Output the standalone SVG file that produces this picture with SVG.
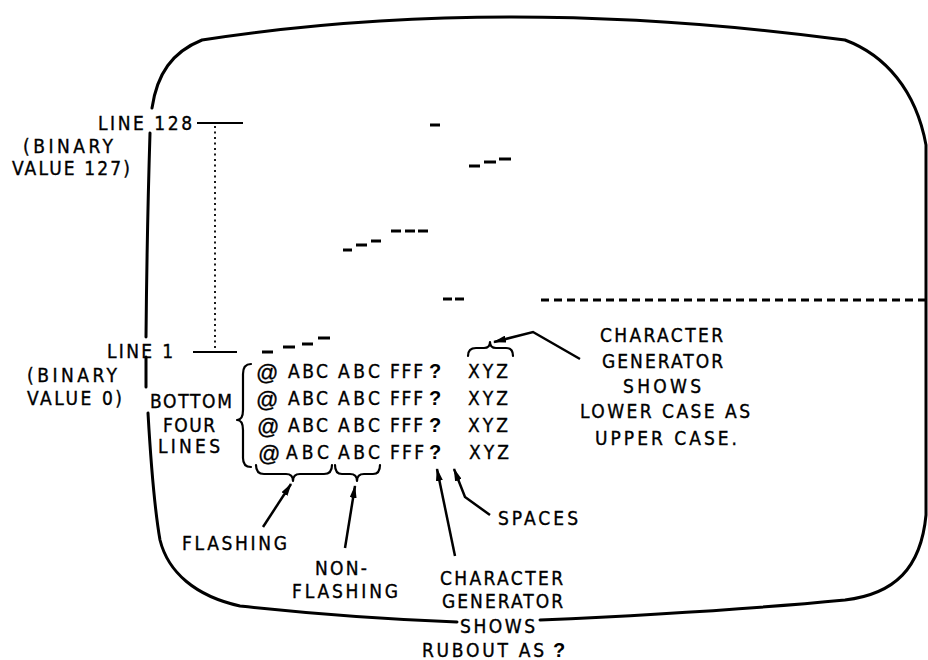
<svg xmlns="http://www.w3.org/2000/svg" width="928" height="660" viewBox="0 0 928 660">
<style>
.t{font-family:'Liberation Sans Narrow','DejaVu Sans Condensed','Liberation Sans',sans-serif;font-size:19px;fill:#000;stroke:#000;stroke-width:0.35}
.at{font-family:'Liberation Sans','DejaVu Sans',sans-serif;font-size:22px;fill:#000;stroke:#000;stroke-width:0.35}
.q{font-family:'Liberation Sans','DejaVu Sans',sans-serif;font-size:20px;font-weight:bold;fill:#000}
.ol{fill:none;stroke:#000;stroke-width:3;stroke-linecap:round}
.br{fill:none;stroke:#000;stroke-width:2.2;stroke-linecap:round;stroke-linejoin:round}
.sc{stroke:#000;stroke-width:3}
.ar{fill:none;stroke:#000;stroke-width:2.5;marker-end:url(#ah)}
</style>
<defs>
<marker id="ah" viewBox="0 0 13 7" refX="12" refY="3.5" markerWidth="13" markerHeight="7" markerUnits="userSpaceOnUse" orient="auto"><path d="M0,0 L13,3.5 L0,7 Z" fill="#000"/></marker>
</defs>
<rect width="928" height="660" fill="#fff"/>

<g id="screen">
<path class="ol" d="M152,108 C157,74 172,52 202,40 Q500,-6 845,40 C885,55 916,90 926,145 L926,515 C921,568 895,594 845,600 Q720,612 540,620"/>
<path class="ol" d="M457,622 Q350,618 240,606 C195,596 168,572 160,540 Q153,500 148,413"/>
<path class="ol" d="M146,387 L146,357"/>
<path class="ol" d="M146,337 Q147,230 150,133"/>
</g>

<g id="scanlines">
<line class="sc" x1="430" y1="125" x2="440" y2="125"/>
<line class="sc" x1="469" y1="166" x2="480" y2="166"/>
<line class="sc" x1="484" y1="162" x2="496" y2="162"/>
<line class="sc" x1="499" y1="159" x2="511" y2="159"/>
<line class="sc" x1="343" y1="250" x2="352" y2="250"/>
<line class="sc" x1="356" y1="245" x2="367" y2="245"/>
<line class="sc" x1="371" y1="241" x2="381" y2="241"/>
<line class="sc" x1="391" y1="231" x2="401" y2="231"/>
<line class="sc" x1="405" y1="231" x2="415" y2="231"/>
<line class="sc" x1="418" y1="231" x2="428" y2="231"/>
<line class="sc" x1="443" y1="299" x2="452" y2="299"/>
<line class="sc" x1="455" y1="299" x2="464" y2="299"/>
<line class="sc" x1="541" y1="300" x2="928" y2="300" stroke-dasharray="8 5"/>
<line class="sc" x1="262" y1="352" x2="273" y2="352"/>
<line class="sc" x1="283" y1="347" x2="295" y2="347"/>
<line class="sc" x1="302" y1="344" x2="313" y2="344"/>
<line class="sc" x1="318" y1="338" x2="330" y2="338"/>
</g>

<g id="line128">
<text class="t" x="98" y="130" textLength="94" lengthAdjust="spacing">LINE 128</text>
<line x1="197" y1="123" x2="243" y2="123" stroke="#000" stroke-width="1.8"/>
<text class="t" x="23" y="153" textLength="90" lengthAdjust="spacing">(BINARY</text>
<text class="t" x="12" y="175" textLength="118" lengthAdjust="spacing">VALUE 127)</text>
</g>

<g id="range">
<line x1="215" y1="126" x2="215" y2="350" stroke="#000" stroke-width="1.8" stroke-dasharray="2 3.5"/>
</g>

<g id="line1">
<text class="t" x="107" y="358" textLength="66" lengthAdjust="spacing">LINE 1</text>
<line x1="193" y1="352" x2="237" y2="352" stroke="#000" stroke-width="1.8"/>
<text class="t" x="27" y="382" textLength="90" lengthAdjust="spacing">(BINARY</text>
<text class="t" x="27" y="405" textLength="95" lengthAdjust="spacing">VALUE 0)</text>
</g>

<g id="bottom-four">
<text class="t" x="150" y="408" textLength="82" lengthAdjust="spacing">BOTTOM</text>
<text class="t" x="163" y="432" textLength="52" lengthAdjust="spacing">FOUR</text>
<text class="t" x="158" y="453" textLength="62" lengthAdjust="spacing">LINES</text>
<path class="br" d="M251,364 Q243,364 243,374 L243,410 Q243,420 237,420 Q243,420 243,430 L243,458 Q243,467 251,467"/>
</g>

<g id="rows">
<text class="at" x="256" y="380">@</text>
<text class="t" x="288" y="378" textLength="40" lengthAdjust="spacing">ABC</text>
<text class="t" x="338" y="378" textLength="42" lengthAdjust="spacing">ABC</text>
<text class="t" x="390" y="378" textLength="33" lengthAdjust="spacing">FFF</text>
<text class="q" x="429" y="378">?</text>
<text class="t" x="468" y="378" textLength="40" lengthAdjust="spacing">XYZ</text>

<text class="at" x="256" y="407">@</text>
<text class="t" x="288" y="405" textLength="40" lengthAdjust="spacing">ABC</text>
<text class="t" x="338" y="405" textLength="42" lengthAdjust="spacing">ABC</text>
<text class="t" x="390" y="405" textLength="33" lengthAdjust="spacing">FFF</text>
<text class="q" x="429" y="405">?</text>
<text class="t" x="468" y="405" textLength="40" lengthAdjust="spacing">XYZ</text>

<text class="at" x="257" y="434">@</text>
<text class="t" x="288" y="432" textLength="40" lengthAdjust="spacing">ABC</text>
<text class="t" x="338" y="432" textLength="42" lengthAdjust="spacing">ABC</text>
<text class="t" x="390" y="432" textLength="33" lengthAdjust="spacing">FFF</text>
<text class="q" x="429" y="432">?</text>
<text class="t" x="468" y="432" textLength="40" lengthAdjust="spacing">XYZ</text>

<text class="at" x="258" y="461">@</text>
<text class="t" x="286" y="459" textLength="43" lengthAdjust="spacing">ABC</text>
<text class="t" x="338" y="459" textLength="42" lengthAdjust="spacing">ABC</text>
<text class="t" x="390" y="459" textLength="34" lengthAdjust="spacing">FFF</text>
<text class="q" x="429" y="459">?</text>
<text class="t" x="469" y="459" textLength="40" lengthAdjust="spacing">XYZ</text>

<path class="br" d="M256,465 Q256,474 264,474 L286,474 Q293,474 293,481 Q293,474 300,474 L324,474 Q332,474 332,465"/>
<path class="br" d="M335,465 Q335,474 342,474 L350,474 Q357,474 357,481 Q357,474 364,474 L373,474 Q380,474 380,465"/>
<path class="br" d="M468,356 Q468,348 476,348 L484,348 Q490,348 490,342 Q490,348 496,348 L506,348 Q513,348 513,356"/>
</g>

<g id="lowercase-note">
<text class="t" x="600" y="342" textLength="123" lengthAdjust="spacing">CHARACTER</text>
<text class="t" x="602" y="368" textLength="121" lengthAdjust="spacing">GENERATOR</text>
<text class="t" x="623" y="393" textLength="78" lengthAdjust="spacing">SHOWS</text>
<text class="t" x="580" y="418" textLength="170" lengthAdjust="spacing">LOWER CASE AS</text>
<text class="t" x="595" y="445" textLength="142" lengthAdjust="spacing">UPPER CASE.</text>
</g>

<g id="flashing">
<text class="t" x="182" y="550" textLength="105" lengthAdjust="spacing">FLASHING</text>
</g>

<g id="non-flashing">
<text class="t" x="315" y="575" textLength="52" lengthAdjust="spacing">NON-</text>
<text class="t" x="292" y="598" textLength="106" lengthAdjust="spacing">FLASHING</text>
</g>

<g id="spaces">
<text class="t" x="498" y="525" textLength="80" lengthAdjust="spacing">SPACES</text>
</g>

<g id="rubout-note">
<text class="t" x="440" y="585" textLength="123" lengthAdjust="spacing">CHARACTER</text>
<text class="t" x="442" y="608" textLength="121" lengthAdjust="spacing">GENERATOR</text>
<text class="t" x="460" y="633" textLength="75" lengthAdjust="spacing">SHOWS</text>
<text class="t" x="422" y="657" textLength="122" lengthAdjust="spacing">RUBOUT AS</text>
<text class="q" x="553" y="657">?</text>
</g>

<g id="connectors">
<path class="ar" d="M580,359 L533,332 L494,342"/>
<path class="ar" d="M263,527 L291,484"/>
<path class="ar" d="M345,548 L355,486"/>
<path class="ar" d="M455,556 L437,469"/>
<path class="ar" d="M490,515 L465,497 L454,469"/>
</g>
</svg>
